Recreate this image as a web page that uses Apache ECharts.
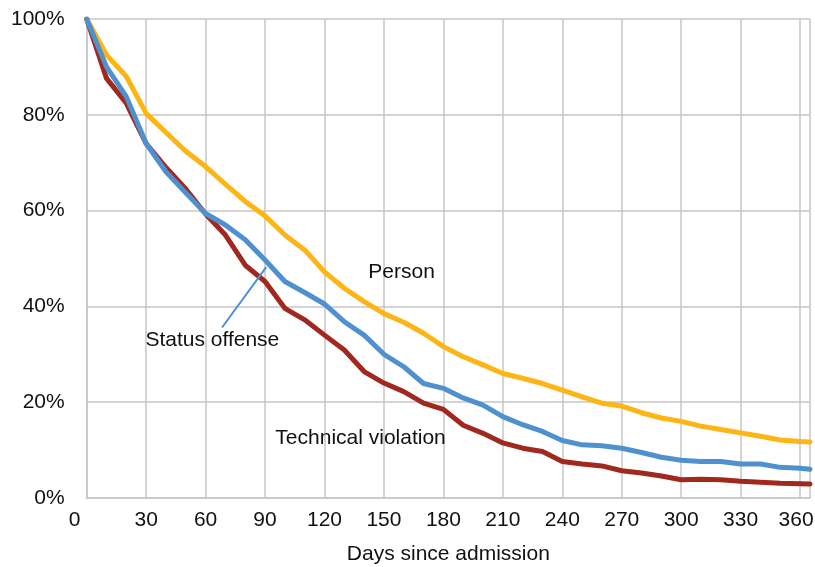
<!DOCTYPE html>
<html>
<head>
<meta charset="utf-8">
<script src="https://cdn.jsdelivr.net/npm/echarts@6/dist/echarts.min.js"></script>
<style>
html,body{margin:0;padding:0;background:#fff;}
#c{width:815px;height:567px;}
</style>
</head>
<body>
<div id="c"></div>
<script>
const days = [0,10,20,30,40,50,60,70,80,90,100,110,120,130,140,150,160,170,180,190,200,210,220,230,240,250,260,270,280,290,300,310,320,330,340,350,360,365];
const person = [100,92.5,88,80.3,76.3,72.4,69.2,65.5,61.9,58.9,54.9,51.8,47.2,43.8,41.0,38.5,36.7,34.4,31.6,29.5,27.8,26.0,25.0,23.9,22.5,21.1,19.8,19.2,17.8,16.7,16.0,15.0,14.3,13.6,12.9,12.1,11.8,11.7];
const statusOffense = [100,90.0,83.8,74.0,68.1,63.7,59.4,57.0,53.9,49.7,45.2,42.9,40.5,36.8,34.0,30.0,27.4,23.9,22.9,20.9,19.4,17.0,15.3,13.9,12.0,11.1,10.9,10.4,9.5,8.5,7.9,7.6,7.6,7.1,7.1,6.4,6.2,6.0];
const technicalViolation = [100,87.6,82.4,74.0,69.0,64.5,59.3,54.9,48.6,45.2,39.6,37.2,34.0,30.9,26.4,24.0,22.2,19.8,18.5,15.2,13.5,11.5,10.4,9.7,7.6,7.1,6.7,5.7,5.2,4.6,3.8,3.9,3.8,3.5,3.3,3.1,3.0,2.9];
const seriesNames = ['Person','Status offense','Technical violation'];
const xTicks = [0,30,60,90,120,150,180,210,240,270,300,330,360];
const yTicks = [0,20,40,60,80,100];
const xTitle = 'Days since admission';
// annotation anchors in data units [day, percent]
const labelPerson = [158.9, 47.1];
const labelStatus = [63.4, 33.0];
const labelTech = [138.2, 12.5];
const pointerStatus = [[68.3, 35.6], [90.6, 48.2]];

const FONT = 'Liberation Sans';
const FS = 21;
const C_PERSON = '#FCB514';
const C_STATUS = '#4F91CF';
const C_TECH = '#A0281F';
const GRID = '#C6C6C6';

const chart = echarts.init(document.getElementById('c'), null, {renderer:'canvas'});
const mk = arr => days.map((d,i)=>[d, arr[i]]);
const lineBase = {type:'line', showSymbol:false, symbol:'none', smooth:false, animation:false,
  lineStyle:{width:5, join:'round', cap:'round'}};

chart.setOption({
  backgroundColor:'#fff',
  animation:false,
  grid:{left:86.7, right:5, top:19, bottom:69, containLabel:false, outerBoundsMode:'none'},
  xAxis:{type:'value', min:0, max:365, interval:30,
    axisLine:{show:true, lineStyle:{color:GRID, width:1.5}},
    axisTick:{show:false},
    splitLine:{show:true, lineStyle:{color:GRID, width:1.5}},
    axisLabel:{margin:12, fontFamily:FONT, fontSize:FS, color:'#111', hideOverlap:false,
      formatter:v=> xTicks.indexOf(v)<0 ? '' : (v===0 ? '{z|0}' : (v===xTicks[xTicks.length-1] ? '{e|'+v+'}' : String(v))),
      rich:{z:{fontFamily:FONT, fontSize:FS, color:'#111', padding:[0,24,0,0]},
            e:{fontFamily:FONT, fontSize:FS, color:'#111', padding:[0,8,0,0]}}},
    name:xTitle, nameLocation:'middle', nameGap:46,
    nameTextStyle:{fontFamily:FONT, fontSize:FS, color:'#111'}},
  yAxis:{type:'value', min:0, max:100, interval:20,
    axisLine:{show:true, lineStyle:{color:GRID, width:1.5}},
    axisTick:{show:false},
    splitLine:{show:true, lineStyle:{color:GRID, width:1.5}},
    axisLabel:{margin:22, fontFamily:FONT, fontSize:FS, color:'#111',
      formatter:v=> yTicks.indexOf(v)<0 ? '' : v+'%'}},
  series:[
    Object.assign({}, lineBase, {name:seriesNames[2], data:mk(technicalViolation), color:C_TECH, lineStyle:Object.assign({}, lineBase.lineStyle, {color:C_TECH}), z:2}),
    Object.assign({}, lineBase, {name:seriesNames[0], data:mk(person), color:C_PERSON, lineStyle:Object.assign({}, lineBase.lineStyle, {color:C_PERSON}), z:3}),
    Object.assign({}, lineBase, {name:seriesNames[1], data:mk(statusOffense), color:C_STATUS, lineStyle:Object.assign({}, lineBase.lineStyle, {color:C_STATUS}), z:4})
  ]
});

function px(p){ return chart.convertToPixel({gridIndex:0}, p); }
function txt(p, s){
  const q = px(p);
  return {type:'text', x:q[0], y:q[1], z:100,
    style:{text:s, fill:'#111', font:FS+'px "'+FONT+'"', align:'center', verticalAlign:'middle'}};
}
const a = px(pointerStatus[0]), b = px(pointerStatus[1]);
chart.setOption({graphic:[
  txt(labelPerson, seriesNames[0]),
  txt(labelStatus, seriesNames[1]),
  txt(labelTech, seriesNames[2]),
  {type:'line', z:50, shape:{x1:a[0], y1:a[1], x2:b[0], y2:b[1]}, style:{stroke:C_STATUS, lineWidth:2}}
]});
</script>
</body>
</html>
